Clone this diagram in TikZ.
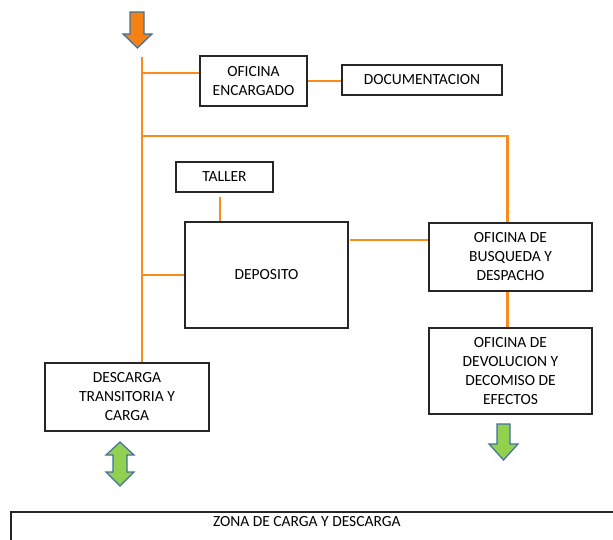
\documentclass[tikz,border=0pt]{standalone}
\usepackage{fontspec}
\setmainfont{Carlito}
\definecolor{lineor}{RGB}{250,140,30}
\definecolor{arrowor}{RGB}{245,128,20}
\definecolor{arrowedge}{RGB}{65,113,156}
\definecolor{arrowgreen}{RGB}{146,208,80}
\tikzset{
  box/.style={draw=black!85, line width=1.4pt, inner sep=0pt, align=center, fill=white,
    font=\fontsize{15.5}{19}\selectfont},
  link/.style={draw=lineor, line width=2.2pt},
  arr/.style={draw=arrowedge, line width=1.2pt, line join=miter}
}
\begin{document}
\begin{tikzpicture}[x=1pt,y=-1pt]
\useasboundingbox (0,0) rectangle (613,540);
% boxes
\node[box, minimum width=107, minimum height=50] (enc) at (253.5,81) {OFICINA\\ENCARGADO};
\node[box, minimum width=160, minimum height=30] (doc) at (422,80) {DOCUMENTACION};
\node[box, minimum width=97, minimum height=30] (taller) at (224.5,177) {TALLER};
\node[box, minimum width=163, minimum height=106] (dep) at (266.5,275) {DEPOSITO};
\node[box, minimum width=163, minimum height=68] (bus) at (510.5,257) {OFICINA DE\\BUSQUEDA Y\\DESPACHO};
\node[box, minimum width=163, minimum height=86] (dev) at (510.5,371) {OFICINA DE\\DEVOLUCION Y\\DECOMISO DE\\EFECTOS};
\node[box, minimum width=164, minimum height=68] (des) at (127,397) {DESCARGA\\TRANSITORIA Y\\CARGA};
\node[box, anchor=north west, minimum width=612, text height=12, text depth=40, inner ysep=3, line width=1.6pt] (zona) at (10,511) {\hspace*{-20pt}ZONA DE CARGA Y DESCARGA};
% connectors
\coordinate (top) at (142,57);
\coordinate (j1) at (142,73);
\coordinate (j2) at (142,136);
\coordinate (j3) at (142,275);
\coordinate (t1) at (220,197);
\coordinate (d1) at (350,240);
\draw[link] (top) -- (top |- des.north);
\draw[link] (j1) -- (j1 -| enc.west);
\draw[link] (enc.east) -- (enc.east -| doc.west);
\draw[link] (j2) -| ([xshift=-3pt]bus.north);
\draw[link] (t1) -- (t1 |- dep.north);
\draw[link] (j3) -- (j3 -| dep.west);
\draw[link] (d1) -- (d1 -| bus.west);
\draw[link] ([xshift=-3pt]bus.south) -- ([xshift=-3pt]dev.north);
% arrows
\filldraw[arr, fill=arrowor] (130,12) -- (144,12) -- (144,34) -- (152,34) -- (137.5,48) -- (123,34) -- (130,34) -- cycle;
\filldraw[arr, fill=arrowgreen] (497,424) -- (510,424) -- (510,444) -- (518,444) -- (503.5,460) -- (489,444) -- (497,444) -- cycle;
\filldraw[arr, fill=arrowgreen] (120,442) -- (134,455) -- (127,455) -- (127,472) -- (134,472) -- (120,486) -- (106,472) -- (113,472) -- (113,455) -- (106,455) -- cycle;
\end{tikzpicture}
\end{document}
